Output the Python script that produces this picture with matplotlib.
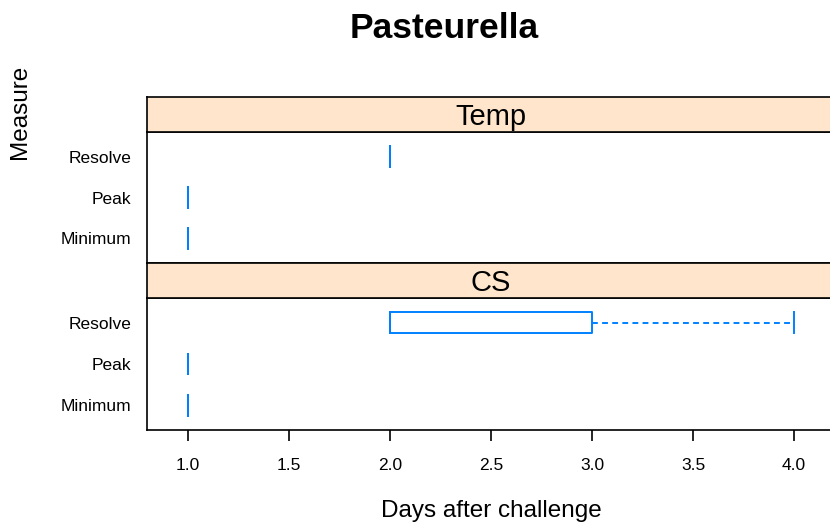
import matplotlib.pyplot as plt

plt.rcParams['font.family'] = ['Liberation Sans', 'DejaVu Sans']

# five-number summaries per measure (days after challenge)
measures = ['Minimum', 'Peak', 'Resolve']
panels = ['Temp', 'CS']

temp_low = [1, 1, 2]
temp_q1 = [1, 1, 2]
temp_med = [1, 1, 2]
temp_q3 = [1, 1, 2]
temp_high = [1, 1, 2]

cs_low = [1, 1, 2]
cs_q1 = [1, 1, 2]
cs_med = [1, 1, 2]
cs_q3 = [1, 1, 3]
cs_high = [1, 1, 4]

xticks = [1.0, 1.5, 2.0, 2.5, 3.0, 3.5, 4.0]

blue = '#0080ff'
strip_col = '#ffe5cc'


def make_stats(lo, q1, med, q3, hi):
    return [dict(whislo=a, q1=b, med=c, q3=d, whishi=e, fliers=[])
            for a, b, c, d, e in zip(lo, q1, med, q3, hi)]


stats = {
    'Temp': make_stats(temp_low, temp_q1, temp_med, temp_q3, temp_high),
    'CS': make_stats(cs_low, cs_q1, cs_med, cs_q3, cs_high),
}

fig = plt.figure(figsize=(8.3, 5.26), dpi=100)

W, H = 830, 526
left, right = 147, 835
# (panel top, panel bottom, strip top) in pixels
layout = {'Temp': (132, 263, 97), 'CS': (298, 430, 263)}

for name in panels:
    ptop, pbot, stop = layout[name]
    ax = fig.add_axes([left / W, 1 - pbot / H, (right - left) / W, (pbot - ptop) / H])
    ax.bxp(stats[name], positions=[1, 2, 3], widths=0.5, orientation='horizontal',
           showfliers=False, capwidths=0.5,
           boxprops=dict(color=blue, lw=1.4),
           medianprops=dict(color=blue, lw=1.4),
           whiskerprops=dict(color=blue, lw=1.4, ls=(0, (3, 2.2))),
           capprops=dict(color=blue, lw=1.4))
    ax.set_xlim(0.797, 4.203)
    ax.set_ylim(0.4, 3.6)
    ax.set_yticks([1, 2, 3])
    ax.set_yticklabels(measures, fontsize=12.5)
    ax.tick_params(axis='y', length=0, pad=11)
    for s in ax.spines.values():
        s.set_linewidth(1.2)
    if name == 'CS':
        ax.set_xticks(xticks)
        ax.set_xticklabels([f'{t:.1f}' for t in xticks], fontsize=12.5)
        ax.tick_params(axis='x', length=8, width=1.2, pad=12)
    else:
        ax.set_xticks([])

    # strip header
    sax = fig.add_axes([left / W, 1 - ptop / H, (right - left) / W, (ptop - stop) / H])
    sax.set_facecolor(strip_col)
    sax.set_xticks([])
    sax.set_yticks([])
    for s in sax.spines.values():
        s.set_linewidth(1.2)
    sax.text(0.5, 0.42, name, transform=sax.transAxes, ha='center', va='center',
             fontsize=21)

fig.text(444 / W, 1 - 28 / H, 'Pasteurella', ha='center', va='center',
         fontsize=25.5, fontweight='bold')
fig.text(491 / W, 1 - 511 / H, 'Days after challenge', ha='center', va='center',
         fontsize=17.5)
fig.text(20 / W, 1 - 112 / H, 'Measure', ha='center', va='center',
         rotation=90, fontsize=17.5)

fig.savefig('out.png', dpi=100)
